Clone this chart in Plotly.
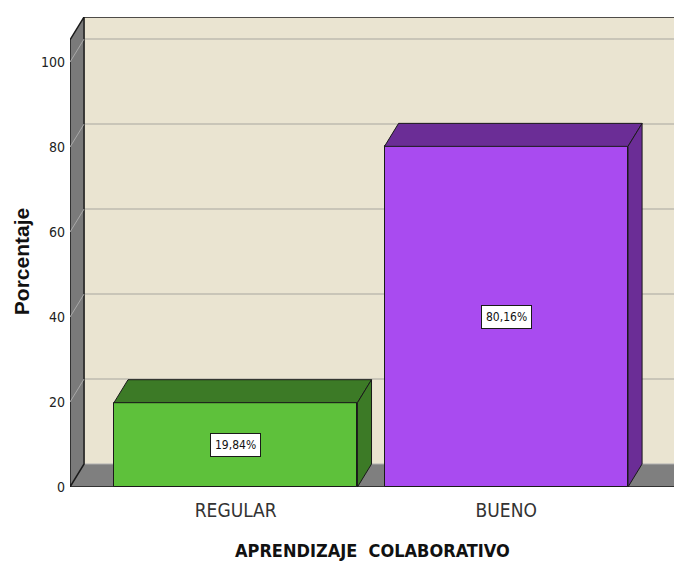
import plotly.graph_objects as go

categories = ["REGULAR", "BUENO"]
percentages = [19.84, 80.16]
value_labels = ["19,84%", "80,16%"]
y_ticks = [0, 20, 40, 60, 80, 100]

front_colors = ["#5EC13B", "#A94BF0"]
dark_colors = ["#3C7A26", "#6B2D96"]

# 3D depth offsets (in axis units)
DX = 0.052
DY = 5.41
BAR_W = 0.9
X_MIN, X_MAX = -0.6125, 1.62
Y_MAX = 110.6
WALL_TOP = 105.2

NARROW = "Liberation Sans Narrow, Arial Narrow, DejaVu Sans Condensed, sans-serif"

fig = go.Figure()
xs = list(range(len(categories)))

# front faces
fig.add_trace(go.Bar(
    x=xs, y=percentages, width=BAR_W,
    marker=dict(color=front_colors, line=dict(color="#1a1a1a", width=1)),
    showlegend=False, hoverinfo="skip"))

# top and side faces
for i, v in enumerate(percentages):
    l, r = i - BAR_W / 2, i + BAR_W / 2
    fig.add_trace(go.Scatter(
        x=[l, r, r + DX, l + DX, l], y=[v, v, v + DY, v + DY, v],
        mode="lines", fill="toself", fillcolor=dark_colors[i],
        line=dict(color="#1a1a1a", width=1), showlegend=False, hoverinfo="skip"))
    fig.add_trace(go.Scatter(
        x=[r, r + DX, r + DX, r, r], y=[0, DY, v + DY, v, 0],
        mode="lines", fill="toself", fillcolor=dark_colors[i],
        line=dict(color="#1a1a1a", width=1), showlegend=False, hoverinfo="skip"))

shapes = []
# back wall
shapes.append(dict(type="rect", xref="x", yref="y", layer="below",
                   x0=X_MIN + DX, x1=X_MAX + 1, y0=DY, y1=WALL_TOP + DY,
                   fillcolor="#EAE4D1", line=dict(width=0)))
# gridlines on back wall and side wall
for t in y_ticks[1:]:
    shapes.append(dict(type="line", xref="x", yref="y", layer="below",
                       x0=X_MIN + DX, x1=X_MAX + 1, y0=t + DY, y1=t + DY,
                       line=dict(color="#C9C5B8", width=2)))
# floor
shapes.append(dict(type="path", xref="x", yref="y", layer="below",
                   path=f"M {X_MIN},0 L {X_MAX+1},0 L {X_MAX+1+DX},{DY} L {X_MIN+DX},{DY} Z",
                   fillcolor="#7F7F7F", line=dict(width=0)))
shapes.append(dict(type="line", xref="x", yref="y", layer="below",
                   x0=X_MIN + DX, x1=X_MAX + 1, y0=DY, y1=DY,
                   line=dict(color="#B0B0B0", width=1)))
# left wall
shapes.append(dict(type="path", xref="x", yref="y", layer="below",
                   path=f"M {X_MIN},0 L {X_MIN+DX},{DY} L {X_MIN+DX},{WALL_TOP+DY} L {X_MIN},{WALL_TOP} Z",
                   fillcolor="#7A7A7A", line=dict(color="#1a1a1a", width=1.5)))
for t in y_ticks[1:]:
    shapes.append(dict(type="line", xref="x", yref="y", layer="below",
                       x0=X_MIN, x1=X_MIN + DX, y0=t, y1=t + DY,
                       line=dict(color="#A8A8A8", width=1)))
# edges
shapes.append(dict(type="line", xref="x", yref="y", layer="below",
                   x0=X_MIN + DX, x1=X_MAX + 1, y0=WALL_TOP + DY, y1=WALL_TOP + DY,
                   line=dict(color="#1a1a1a", width=1.5)))
shapes.append(dict(type="line", xref="x", yref="y", layer="below",
                   x0=X_MIN, x1=X_MAX + 1, y0=0, y1=0,
                   line=dict(color="#1a1a1a", width=1.5)))

annotations = []
for i, v in enumerate(percentages):
    annotations.append(dict(x=i, y=v / 2, xref="x", yref="y", text=value_labels[i],
                            showarrow=False, bgcolor="white", bordercolor="#1a1a1a",
                            borderwidth=1, borderpad=4,
                            font=dict(family=NARROW, size=12, color="#111")))
annotations.append(dict(x=0.5, y=-0.136, xref="paper", yref="paper",
                        text="APRENDIZAJE  COLABORATIVO", showarrow=False,
                        yanchor="middle",
                        font=dict(family=NARROW, size=18, color="#111", weight="bold")))
annotations.append(dict(x=-0.079, y=0.479, xref="paper", yref="paper",
                        text="Porcentaje", showarrow=False, textangle=-90,
                        xanchor="center", yanchor="middle",
                        font=dict(family="Liberation Sans, Arial, sans-serif", size=21,
                                  color="#111", weight="bold")))

fig.update_layout(
    width=674, height=562,
    margin=dict(l=70, r=0, t=17, b=75),
    paper_bgcolor="white", plot_bgcolor="white",
    shapes=shapes, annotations=annotations,
    xaxis=dict(range=[X_MIN, X_MAX], tickvals=xs, ticktext=categories,
               showgrid=False, zeroline=False, showline=False, ticks="",
               ticklabelstandoff=10,
               tickfont=dict(family=NARROW, size=19, color="#333")),
    yaxis=dict(range=[0, Y_MAX], tickvals=y_ticks, ticktext=[str(t) for t in y_ticks],
               showgrid=False, zeroline=False, showline=False, ticks="",
               ticklabelstandoff=4,
               tickfont=dict(family=NARROW, size=14, color="#222")),
    bargap=0,
)

fig.write_html("out.html", config={"displayModeBar": False},
               post_script="document.body.style.margin='0';document.body.style.overflow='hidden';")
